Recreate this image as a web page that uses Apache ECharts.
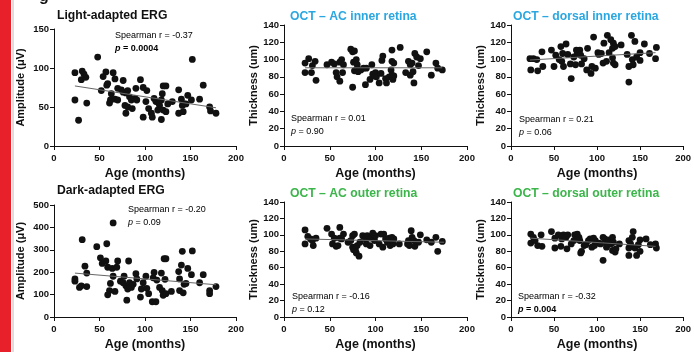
<!DOCTYPE html>
<html>
<head>
<meta charset="utf-8">
<script src="https://cdn.jsdelivr.net/npm/echarts@6/dist/echarts.min.js"></script>
<style>
  html, body { margin: 0; padding: 0; background: #fff; }
  #main { width: 694px; height: 352px; }
</style>
</head>
<body>
<div id="main"></div>
<script>
// age (months) vs value
const lightErg = [[48,114],[152,111],[23,94],[31,96],[30,85],[35,88],[33,92],[65,94],[57,95],[54,89],[67,86],[76,84],[95,85],[98,75],[23,59],[27,33],[36,55],[52,71],[58,78],[59,80],[63,67],[62,59],[61,55],[67,60],[70,59],[70,74],[74,72],[76,69],[79,68],[81,71],[83,63],[85,59],[78,52],[79,42],[81,50],[86,48],[89,61],[90,74],[91,59],[98,37],[101,57],[102,71],[104,48],[107,42],[108,37],[110,61],[112,57],[115,55],[116,52],[118,59],[119,67],[120,77],[123,77],[120,46],[118,34],[114,46],[123,44],[125,54],[130,57],[137,72],[137,42],[140,60],[141,52],[142,44],[143,54],[145,54],[147,65],[151,59],[160,60],[164,78],[171,50],[172,45],[178,42]];
const fitLight = [[23,77],[178,49]];

const acInner = [[23,96],[23,85],[27,101],[30,85],[31,93],[34,98],[35,76],[47,94],[52,97],[55,95],[57,85],[58,80],[61,75],[61,97],[63,100],[64,85],[65,94],[73,112],[75,109],[77,110],[75,68],[76,97],[77,87],[79,100],[80,94],[79,88],[81,86],[84,88],[87,90],[89,71],[90,90],[94,77],[96,94],[97,83],[99,81],[100,85],[101,80],[104,73],[106,84],[107,99],[108,104],[111,78],[112,73],[115,80],[117,88],[118,98],[118,111],[118,82],[119,77],[120,96],[120,81],[127,114],[133,85],[136,98],[138,94],[138,82],[140,96],[141,86],[142,73],[143,107],[145,103],[147,93],[149,101],[156,109],[161,82],[166,96],[168,90],[173,88]];
const fitAcInner = [[23,90.5],[173,90.5]];

const dorsalInner = [[22,101],[23,88],[26,101],[30,100],[31,87],[36,109],[37,92],[47,111],[50,92],[52,105],[56,100],[58,115],[59,98],[60,107],[61,92],[64,118],[66,106],[69,95],[70,78],[73,103],[75,94],[76,111],[77,107],[80,111],[81,105],[82,95],[85,101],[88,88],[89,113],[93,84],[94,92],[96,126],[98,90],[101,108],[102,106],[105,107],[107,96],[108,119],[111,98],[112,128],[114,108],[116,123],[118,113],[119,119],[118,102],[119,96],[121,94],[121,115],[128,117],[135,106],[137,92],[137,74],[140,128],[141,100],[142,94],[144,121],[146,103],[150,108],[150,99],[155,118],[161,107],[168,101],[169,114]];
const fitDorsalInner = [[22,99.5],[168,108]];

const darkErg = [[65,420],[31,345],[47,314],[58,327],[34,227],[51,264],[53,239],[57,250],[59,222],[64,217],[70,250],[82,250],[69,222],[23,170],[23,160],[28,132],[30,139],[36,196],[36,136],[61,118],[62,150],[65,182],[67,114],[59,99],[73,160],[76,153],[77,182],[79,139],[80,75],[81,125],[83,153],[85,132],[87,146],[90,193],[91,170],[95,89],[96,125],[98,153],[101,182],[102,128],[104,104],[108,68],[109,175],[110,199],[112,68],[113,165],[116,132],[118,196],[119,118],[120,97],[121,260],[123,260],[122,168],[123,104],[129,114],[137,203],[138,170],[140,232],[141,293],[138,118],[142,108],[143,146],[145,150],[147,217],[151,189],[152,295],[160,153],[164,189],[171,118],[171,104],[178,136]];
const fitDark = [[23,196],[178,144]];

const acOuter = [[23,106],[23,89],[26,98],[29,95],[31,93],[32,87],[35,96],[47,108],[52,101],[53,89],[55,96],[57,86],[59,87],[61,109],[61,96],[63,95],[65,101],[70,91],[73,93],[75,99],[75,85],[77,101],[76,82],[78,82],[79,78],[80,87],[82,74],[83,91],[86,99],[89,95],[90,89],[91,99],[94,87],[95,96],[97,102],[99,93],[100,99],[104,89],[106,101],[108,85],[109,101],[111,95],[113,91],[115,96],[116,87],[118,97],[118,93],[119,89],[120,95],[126,89],[135,89],[136,93],[137,87],[139,105],[140,97],[142,93],[143,86],[147,91],[149,100],[156,94],[161,91],[166,97],[168,80],[173,92]];
const fitAcOuter = [[23,95],[175,91]];

const dorsalOuter = [[23,101],[23,90],[26,97],[28,93],[31,87],[35,100],[36,86],[47,104],[51,96],[51,84],[55,100],[58,86],[59,95],[61,100],[64,97],[65,83],[66,100],[70,89],[73,93],[74,100],[76,99],[77,101],[79,97],[80,93],[81,78],[82,80],[85,87],[87,88],[90,93],[92,95],[94,85],[96,96],[97,87],[98,93],[102,90],[104,89],[107,97],[107,69],[109,95],[111,89],[111,85],[114,94],[116,89],[118,97],[118,81],[119,91],[121,79],[122,83],[126,89],[137,93],[137,84],[137,75],[139,89],[141,97],[142,104],[144,84],[146,75],[148,88],[150,94],[150,80],[157,95],[162,88],[168,89],[169,84]];
const fitDorsalOuter = [[22,96],[168,86]];

const ageTicks = [0, 50, 100, 150, 200];

const chart = echarts.init(document.getElementById('main'));
const font = 'Liberation Sans, Arial, sans-serif';

// one entry per panel
const panels = [
  {grid: {left: 54, top: 29, width: 182, height: 117}, yMax: 150, yStep: 50, yName: 'Amplitude (μV)', yGap: 28, pts: lightErg, fit: fitLight},
  {grid: {left: 284, top: 25, width: 183, height: 121}, yMax: 140, yStep: 20, yName: 'Thickness (um)', yGap: 24, pts: acInner, fit: fitAcInner},
  {grid: {left: 511, top: 25, width: 182, height: 121}, yMax: 140, yStep: 20, yName: 'Thickness (um)', yGap: 24, pts: dorsalInner, fit: fitDorsalInner},
  {grid: {left: 54, top: 205, width: 182, height: 117}, yMax: 500, yStep: 100, yName: 'Amplitude (μV)', yGap: 28, pts: darkErg, fit: fitDark},
  {grid: {left: 284, top: 202, width: 183, height: 121}, yMax: 140, yStep: 20, yName: 'Thickness (um)', yGap: 24, pts: acOuter, fit: fitAcOuter},
  {grid: {left: 511, top: 202, width: 182, height: 121}, yMax: 140, yStep: 20, yName: 'Thickness (um)', yGap: 24, pts: dorsalOuter, fit: fitDorsalOuter}
];

const axisCommon = {
  axisLine: {show: true, lineStyle: {color: '#111', width: 1}},
  axisTick: {show: true, length: 4, lineStyle: {color: '#111'}},
  splitLine: {show: false},
  axisLabel: {color: '#111', fontSize: 9.5, fontWeight: 'bold', fontFamily: font, margin: 5},
  nameTextStyle: {color: '#111', fontSize: 11, fontWeight: 'bold', fontFamily: font}
};

const grids = [], xAxes = [], yAxes = [], series = [];
panels.forEach((p, i) => {
  grids.push(Object.assign({containLabel: false}, p.grid));
  xAxes.push(Object.assign({}, axisCommon, {
    gridIndex: i, type: 'value', min: ageTicks[0], max: ageTicks[ageTicks.length - 1], interval: 50,
    name: 'Age (months)', nameLocation: 'middle', nameGap: 21,
    axisLabel: Object.assign({}, axisCommon.axisLabel, {margin: 7}),
    nameTextStyle: {color: '#111', fontSize: 12.5, fontWeight: 'bold', fontFamily: font}
  }));
  yAxes.push(Object.assign({}, axisCommon, {
    gridIndex: i, type: 'value', min: 0, max: p.yMax, interval: p.yStep,
    name: p.yName, nameLocation: 'middle', nameGap: p.yGap
  }));
  series.push({
    type: 'scatter', xAxisIndex: i, yAxisIndex: i, data: p.pts,
    symbolSize: 6.8, itemStyle: {color: '#111', opacity: 1}, silent: true
  });
  series.push({
    type: 'line', xAxisIndex: i, yAxisIndex: i, data: p.fit,
    symbol: 'none', lineStyle: {color: '#666', width: 1}, silent: true, z: 3
  });
});

const titleStyle = (c) => ({fontSize: 12.2, fontWeight: 'bold', color: c, fontFamily: font});
const statRich = {
  n: {fontSize: 9, color: '#333', fontFamily: font, lineHeight: 13},
  b: {fontSize: 9, color: '#222', fontWeight: 'bold', fontFamily: font, lineHeight: 13},
  pi: {fontSize: 9, color: '#333', fontStyle: 'italic', fontFamily: font, lineHeight: 13},
  pb: {fontSize: 9, color: '#222', fontStyle: 'italic', fontWeight: 'bold', fontFamily: font, lineHeight: 13}
};
const statText = (x, y, r, p, bold) => ({
  type: 'text', left: x, top: y,
  style: {
    text: '{n|Spearman r = ' + r + '}\n' + (bold ? '{pb|p}{b| = ' + p + '}' : '{pi|p}{n| = ' + p + '}'),
    rich: statRich
  }
});

chart.setOption({
  animation: false,
  backgroundColor: '#fff',
  title: [
    {text: 'Light-adapted ERG', left: 57, top: 10, padding: 0, textStyle: titleStyle('#111')},
    {text: 'OCT – AC inner retina', left: 290, top: 11, padding: 0, textStyle: titleStyle('#2aa7e1')},
    {text: 'OCT – dorsal inner retina', left: 513, top: 11, padding: 0, textStyle: titleStyle('#2aa7e1')},
    {text: 'Dark-adapted ERG', left: 57, top: 185, padding: 0, textStyle: titleStyle('#111')},
    {text: 'OCT – AC outer retina', left: 290, top: 188, padding: 0, textStyle: titleStyle('#3cb54a')},
    {text: 'OCT – dorsal outer retina', left: 513, top: 188, padding: 0, textStyle: titleStyle('#3cb54a')}
  ],
  graphic: [
    {type: 'rect', shape: {x: 0, y: 0, width: 11, height: 352}, style: {fill: '#e8202a'}},
    {type: 'rect', shape: {x: 12.5, y: 0, width: 1, height: 352}, style: {fill: '#bbb'}},
    {type: 'text', left: 39, top: -11, style: {text: 'g', fontSize: 16, fontWeight: 'bold', fill: '#111', fontFamily: font}},
    statText(115, 31, '-0.37', '0.0004', true),
    statText(291, 114, '0.01', '0.90', false),
    statText(519, 115, '0.21', '0.06', false),
    statText(128, 205, '-0.20', '0.09', false),
    statText(292, 292, '-0.16', '0.12', false),
    statText(518, 292, '-0.32', '0.004', true)
  ],
  grid: grids,
  xAxis: xAxes,
  yAxis: yAxes,
  series: series
});
</script>
</body>
</html>
